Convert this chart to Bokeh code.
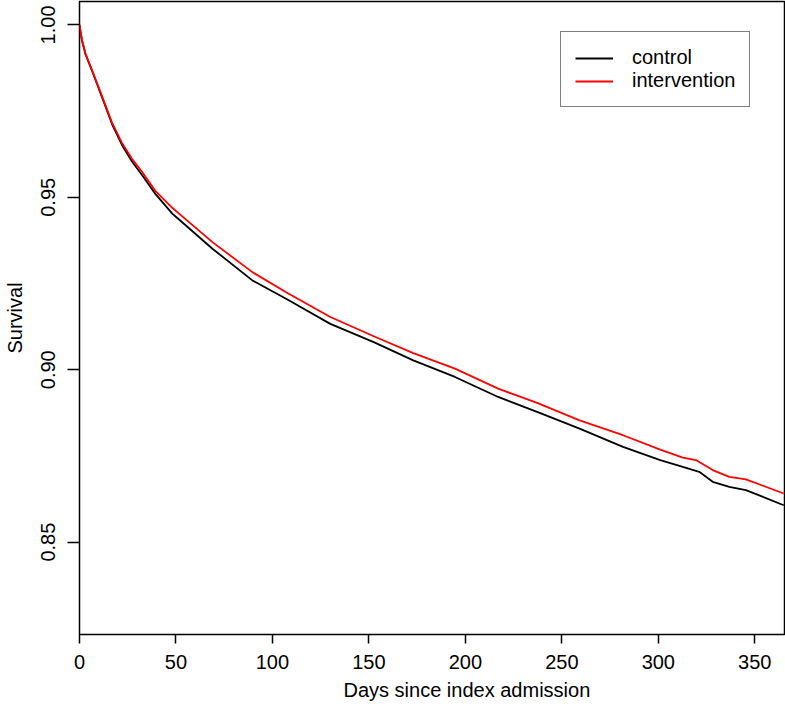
from bokeh.plotting import figure
from bokeh.models import Range1d, FixedTicker, Legend, LegendItem, Title
from bokeh.embed import file_html
from bokeh.resources import INLINE

# Kaplan-Meier survival estimates
days_control = [0, 1.3, 3.1, 6.5, 11.7, 16.9, 22, 27.2, 32.4, 39.3, 48.2, 51.3, 68.9, 89.6,
                108, 130, 152.5, 173, 194.6, 217, 237.5, 259.2, 281.7, 301, 312.7, 321.2,
                328.2, 336.8, 345.4, 365]
surv_control = [1.0, 0.9954, 0.9915, 0.9867, 0.9790, 0.9712, 0.9652, 0.9604, 0.9565, 0.9510,
                0.9452, 0.9437, 0.9351, 0.9259, 0.9203, 0.9133, 0.9080, 0.9027, 0.8979,
                0.8921, 0.8877, 0.8829, 0.8776, 0.8738, 0.8718, 0.8704, 0.8675, 0.8660,
                0.8651, 0.8607]

days_intervention = [0, 1.3, 3.1, 6.5, 11.7, 16.9, 22, 27.2, 32.4, 39.3, 48.2, 51.3, 68.9, 89.6,
                     108, 130, 152.5, 173, 194.6, 217, 237.5, 259.2, 281.7, 301, 312.7, 319.5,
                     328.2, 336.8, 345.4, 365]
surv_intervention = [1.0, 0.9956, 0.9917, 0.9869, 0.9793, 0.9716, 0.9658, 0.9612, 0.9574,
                     0.9519, 0.9469, 0.9454, 0.9370, 0.9283, 0.9222, 0.9153, 0.9097, 0.9048,
                     0.9003, 0.8945, 0.8903, 0.8853, 0.8810, 0.8768, 0.8745, 0.8738, 0.8709,
                     0.8689, 0.8682, 0.8641]

x_ticks = [0, 50, 100, 150, 200, 250, 300, 350]
y_ticks = [0.85, 0.90, 0.95, 1.00]
y_tick_labels = {0.85: "0.85", 0.90: "0.90", 0.95: "0.95", 1.00: "1.00"}

FONT = "Liberation Sans"

p = figure(width=785, height=707, output_backend="svg", toolbar_location=None,
           x_range=Range1d(0, 365.4), y_range=Range1d(0.8232, 1.0068),
           min_border_left=76, min_border_right=1, min_border_top=1, min_border_bottom=73)

p.grid.visible = False
p.outline_line_color = "black"
p.outline_line_width = 1.5
p.background_fill_color = "white"
p.border_fill_color = "white"

r_c = p.line(days_control, surv_control, line_color="black", line_width=1.8)
r_i = p.line(days_intervention, surv_intervention, line_color="red", line_width=1.8)

# x axis
xa = p.xaxis[0]
xa.ticker = FixedTicker(ticks=x_ticks)
xa.axis_line_color = None
xa.major_tick_out = 9
xa.major_tick_in = 0
xa.major_tick_line_width = 1.5
xa.minor_tick_line_color = None
xa.major_label_text_font = FONT
xa.major_label_text_font_size = "20px"
xa.major_label_text_color = "black"
xa.major_label_standoff = 11

xlab = Title(text="Days since index admission", align="left", offset=264,
             text_font=FONT, text_font_size="20px", text_font_style="normal",
             text_color="black", standoff=10)
p.add_layout(xlab, "below")

# y axis
ya = p.yaxis[0]
ya.ticker = FixedTicker(ticks=y_ticks)
ya.major_label_overrides = y_tick_labels
ya.major_label_orientation = "vertical"
ya.axis_label = "Survival"
ya.axis_line_color = None
ya.major_tick_out = 12
ya.major_tick_in = 0
ya.major_tick_line_width = 1.5
ya.minor_tick_line_color = None
ya.major_label_text_font = FONT
ya.major_label_text_font_size = "20px"
ya.major_label_text_color = "black"
ya.major_label_standoff = 12
ya.axis_label_text_font = FONT
ya.axis_label_text_font_size = "20px"
ya.axis_label_text_font_style = "normal"
ya.axis_label_text_color = "black"
ya.axis_label_standoff = 13

legend = Legend(items=[LegendItem(label="control", renderers=[r_c]),
                       LegendItem(label="intervention", renderers=[r_i])],
                location=(481, 527))
legend.label_text_font = FONT
legend.label_text_font_size = "20px"
legend.label_text_color = "black"
legend.glyph_width = 38
legend.glyph_height = 22
legend.label_height = 22
legend.label_standoff = 19
legend.spacing = 0
legend.padding = 14
legend.margin = 0
legend.border_line_color = "black"
legend.border_line_width = 1.5
legend.background_fill_alpha = 1.0
p.add_layout(legend, "center")

open("out.html", "w").write(file_html(p, INLINE))
